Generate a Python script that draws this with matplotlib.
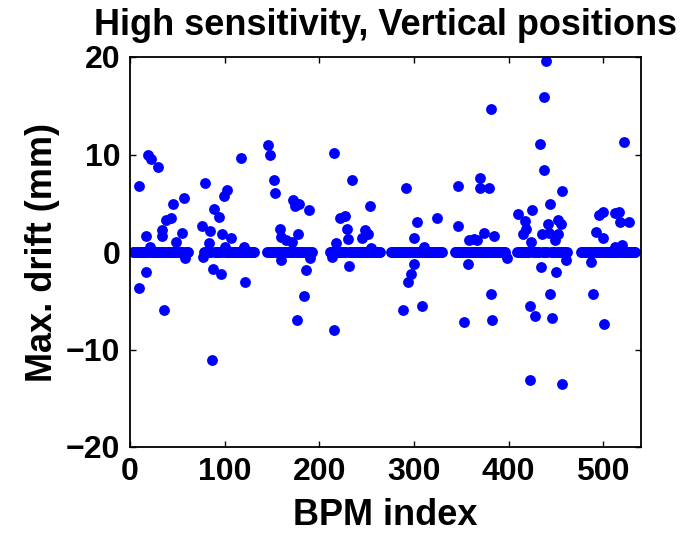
import matplotlib
matplotlib.use("Agg")
import matplotlib.pyplot as plt

# BPM sectors: first and last index of the dense band near zero
sector_first = [3, 77, 145, 211, 276, 343, 409, 477]
sector_last = [61, 131, 192, 264, 330, 396, 462, 534]

# BPMs that drifted away from zero (index, max drift in mm)
drift_idx = [10, 9, 17, 17, 19, 22, 30, 21, 34, 34, 36, 38, 43, 45, 49, 55, 57, 58,
             76, 77, 79, 83, 85, 87, 88, 89, 94, 96, 97, 99, 102, 100, 107, 117, 120, 121,
             146, 148, 152, 153, 159, 160, 160, 165, 171, 172, 174, 178, 179, 177, 184, 186, 189, 190,
             213, 216, 216, 218, 222, 227, 229, 230, 231, 235, 245, 248, 251, 254, 255,
             288, 292, 294, 297, 300, 300, 303, 309, 311, 324,
             347, 347, 353, 357, 358, 363, 367, 370, 370, 374, 379, 381, 381, 383, 385, 398,
             410, 415, 417, 418, 423, 423, 424, 425, 428, 433, 434, 435, 438, 438, 440, 442,
             443, 444, 444, 446, 449, 450, 452, 452, 455, 457, 457, 461,
             487, 489, 492, 496, 500, 500, 501, 512, 512, 517, 518, 520, 522, 527]
drift_val = [6.8, -3.7, 1.6, -2.0, 9.9, 9.5, 8.7, 0.55, 2.3, 1.6, -5.9, 3.3, 3.5, 4.9, 1.0, 2.0, 5.5, -0.65,
             2.7, -0.5, 7.1, 0.9, 2.2, -11.1, -1.7, 4.4, 3.6, -2.3, 1.85, 5.7, 6.4, 0.55, 1.4, 9.6, 0.55, -3.1,
             11.0, 10.0, 7.35, 6.1, 2.4, 1.5, -0.8, 1.2, 1.05, 5.3, 4.75, 1.8, 4.9, -7.0, -4.5, -1.8, 4.3, -0.65,
             -0.5, 10.2, -8.0, 0.9, 3.45, 3.7, 2.4, 1.3, -1.45, 7.35, 1.45, 2.3, 1.85, 4.7, 0.4,
             -5.95, 6.55, -3.1, -2.3, 1.4, -1.25, 3.05, -5.5, 0.55, 3.45,
             6.8, 2.65, -7.2, -1.25, 1.2, 1.3, 1.2, 7.6, 6.6, 1.9, 6.6, 14.7, -4.3, -7.0, 1.6, -0.65,
             3.9, 1.85, 3.2, 2.4, -5.55, -13.1, 1.05, 4.3, -6.55, 11.05, -1.5, 1.85, 15.9, 8.4, 19.6, 2.9,
             2.0, 4.9, -4.3, -6.75, 1.2, -2.0, 3.3, 1.8, 2.9, 6.3, -13.5, -0.8,
             -1.0, -4.3, 2.05, 3.8, 4.1, 1.4, -7.4, 4.0, 0.55, 4.1, 3.1, 0.7, 11.25, 3.1]

x_ticks = [0, 100, 200, 300, 400, 500]
y_ticks = [-20, -10, 0, 10, 20]


def main():
    plt.rcParams['font.family'] = ['Liberation Sans', 'DejaVu Sans']
    plt.rcParams['font.weight'] = 'bold'

    # the rest of each sector sits on zero
    base_idx = []
    for a, b in zip(sector_first, sector_last):
        base_idx += [i for i in range(a, b + 1) if i not in drift_idx]
    base_val = [0.0] * len(base_idx)

    fig = plt.figure(figsize=(6.88, 5.34), dpi=100)
    ax = fig.add_axes([130 / 688, 87 / 534, 511 / 688, 390 / 534])
    ax.plot(base_idx, base_val, 'o', color='#0000ff', markersize=7.8, markeredgewidth=0)
    ax.plot(drift_idx, drift_val, 'o', color='#0000ff', markersize=7.8, markeredgewidth=0)

    ax.set_xlim(0, 540)
    ax.set_ylim(-20, 20)
    ax.set_xticks(x_ticks)
    ax.set_yticks(y_ticks)
    ax.tick_params(direction='in', top=True, right=True, length=4, width=1,
                   labelsize=23, pad=7)
    for s in ax.spines.values():
        s.set_linewidth(1.3)

    ax.set_xlabel('BPM index', fontsize=26, fontweight='bold', labelpad=8)
    ax.set_ylabel('Max. drift (mm)', fontsize=26, fontweight='bold', labelpad=4)
    ax.set_title('High sensitivity, Vertical positions', fontsize=26, fontweight='bold', pad=16)

    fig.savefig('out.png', dpi=100)


main()
